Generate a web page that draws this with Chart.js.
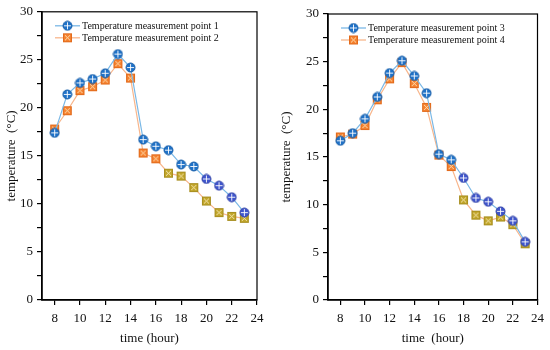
<!DOCTYPE html>
<html>
<head>
<meta charset="utf-8">
<script src="https://cdn.jsdelivr.net/npm/chart.js@4"></script>
<style>
    html, body { margin: 0; padding: 0; background: #fff; }
    .wrap { display: flex; width: 550px; height: 350px; }
    .box { position: relative; width: 275px; height: 350px; }
</style>
</head>
<body>
<div class="wrap">
    <div class="box"><canvas id="leftChart"></canvas></div>
    <div class="box"><canvas id="rightChart"></canvas></div>
</div>
<script>
// data
const hours = [8, 9, 10, 11, 12, 13, 14, 15, 16, 17, 18, 19, 20, 21, 22, 23];
const xTicks = [8, 10, 12, 14, 16, 18, 20, 22, 24];
const point1 = [17.4, 21.4, 22.6, 23.0, 23.6, 25.6, 24.2, 16.7, 16.0, 15.6, 14.1, 13.9, 12.6, 11.9, 10.7, 9.1];
const point2 = [17.8, 19.7, 21.8, 22.2, 22.9, 24.6, 23.1, 15.3, 14.7, 13.2, 12.9, 11.7, 10.3, 9.1, 8.7, 8.5];
const point3 = [16.7, 17.5, 19.0, 21.3, 23.8, 25.1, 23.5, 21.7, 15.3, 14.7, 12.8, 10.7, 10.3, 9.3, 8.3, 6.1];
const point4 = [17.1, 17.4, 18.3, 21.0, 23.2, 24.9, 22.7, 20.2, 15.2, 14.0, 10.5, 8.9, 8.3, 8.7, 7.9, 5.9];

const FONT = '"Liberation Serif", "Times New Roman", serif';

// marker images
function circleMarker(fill, edge) {
    const c = document.createElement('canvas');
    c.width = 11; c.height = 11;
    const g = c.getContext('2d');
    g.beginPath();
    g.arc(5.5, 5.5, 4.5, 0, Math.PI * 2);
    g.fillStyle = fill;
    g.fill();
    g.lineWidth = 1;
    g.strokeStyle = edge;
    g.stroke();
    g.strokeStyle = 'rgba(255,255,255,0.9)';
    g.beginPath();
    g.moveTo(2, 5.5); g.lineTo(9, 5.5);
    g.moveTo(5.5, 2); g.lineTo(5.5, 9);
    g.stroke();
    return c;
}

function squareMarker(fill, edge) {
    const c = document.createElement('canvas');
    c.width = 11; c.height = 11;
    const g = c.getContext('2d');
    g.fillStyle = fill;
    g.fillRect(1, 1, 9, 9);
    g.lineWidth = 1;
    g.strokeStyle = edge;
    g.strokeRect(1.5, 1.5, 8, 8);
    g.strokeStyle = 'rgba(255,240,200,0.85)';
    g.beginPath();
    g.moveTo(3, 3); g.lineTo(8, 8);
    g.moveTo(8, 3); g.lineTo(3, 8);
    g.stroke();
    return c;
}

const blueDot = circleMarker('#1f72c8', '#1a5fa8');
const purpleDot = circleMarker('#3f55cc', '#3445a8');
const orangeSq = squareMarker('#f5812f', '#e26b1c');
const oliveSq = squareMarker('#c0a52a', '#a88f20');

function markers(n, from, normal, alt) {
    return Array.from({ length: n }, (_, i) => (i >= from ? alt : normal));
}

// frame round the plot area
const framePlugin = {
    id: 'frame',
    afterDraw(chart) {
        const { ctx, chartArea: a } = chart;
        ctx.save();
        ctx.strokeStyle = '#000';
        ctx.lineWidth = 1.2;
        ctx.strokeRect(a.left, a.top, a.right - a.left, a.bottom - a.top);
        ctx.restore();
    }
};

// legend inside the plot, line + marker + text
const insideLegend = {
    id: 'insideLegend',
    afterDraw(chart) {
        const { ctx, chartArea: a } = chart;
        ctx.save();
        ctx.font = '10px ' + FONT;
        ctx.textBaseline = 'middle';
        chart.data.datasets.forEach((ds, i) => {
            const y = a.top + 14 + i * 12;
            const x0 = a.left + 13;
            ctx.strokeStyle = ds.borderColor;
            ctx.lineWidth = 1.3;
            ctx.beginPath();
            ctx.moveTo(x0, y);
            ctx.lineTo(x0 + 25, y);
            ctx.stroke();
            const img = ds.legendMarker;
            ctx.drawImage(img, x0 + 12.5 - img.width / 2, y - img.height / 2);
            ctx.fillStyle = '#111';
            ctx.fillText(ds.label, x0 + 27, y + 0.5);
        });
        ctx.restore();
    }
};

function createTempChart(id, a, b, labelA, labelB, alt, box) {
    const canvas = document.getElementById(id);
    const ctx = canvas.getContext('2d');
    return new Chart(ctx, {
        type: 'line',
        data: {
            datasets: [
                {
                    label: labelA,
                    data: hours.map((h, i) => ({ x: h, y: a[i] })),
                    borderColor: '#7ab8e6',
                    borderWidth: 1.2,
                    pointStyle: markers(hours.length, alt[0], blueDot, purpleDot),
                    legendMarker: blueDot,
                    tension: 0
                },
                {
                    label: labelB,
                    data: hours.map((h, i) => ({ x: h, y: b[i] })),
                    borderColor: '#f8b68c',
                    borderWidth: 1.2,
                    pointStyle: markers(hours.length, alt[1], orangeSq, oliveSq),
                    legendMarker: orangeSq,
                    tension: 0
                }
            ]
        },
        options: {
            responsive: true,
            maintainAspectRatio: false,
            animation: false,
            layout: { padding: { top: box.top, right: box.right, left: 0, bottom: 0 } },
            plugins: {
                legend: { display: false },
                tooltip: { enabled: false }
            },
            scales: {
                x: {
                    type: 'linear',
                    min: 7,
                    max: 24,
                    afterBuildTicks: (s) => { s.ticks = xTicks.map(v => ({ value: v })); },
                    afterFit: (s) => { s.height = 50; },
                    grid: { drawOnChartArea: false, tickLength: 5, color: '#000', lineWidth: 1.2 },
                    border: { color: '#000', width: 1.5 },
                    ticks: { color: '#111', padding: 6, font: { family: FONT, size: 13 } },
                    title: {
                        display: true,
                        text: box.xTitle,
                        color: '#111',
                        padding: { top: 2, bottom: 4 },
                        font: { family: FONT, size: 13 }
                    }
                },
                y: {
                    min: 0,
                    max: 30,
                    afterFit: (s) => { s.width = box.yWidth; },
                    grid: { drawOnChartArea: false, tickLength: 5, color: '#000', lineWidth: 1.2 },
                    border: { color: '#000', width: 1.5 },
                    ticks: {
                        stepSize: 2.5,
                        color: '#111',
                        padding: 4,
                        font: { family: FONT, size: 13 },
                        callback: (v) => (v % 5 === 0 ? v : '')
                    },
                    title: {
                        display: true,
                        text: 'temperature  (°C)',
                        color: '#111',
                        padding: { top: 4, bottom: 0 },
                        font: { family: FONT, size: 13 }
                    }
                }
            }
        },
        plugins: [framePlugin, insideLegend]
    });
}

createTempChart('leftChart', point1, point2,
    'Temperature measurement point 1', 'Temperature measurement point 2',
    [12, 9], { top: 10, right: 18, yWidth: 42, xTitle: 'time (hour)' });

createTempChart('rightChart', point3, point4,
    'Temperature measurement point 3', 'Temperature measurement point 4',
    [10, 10], { top: 14, right: 10, yWidth: 53, xTitle: 'time  (hour)' });
</script>
</body>
</html>
